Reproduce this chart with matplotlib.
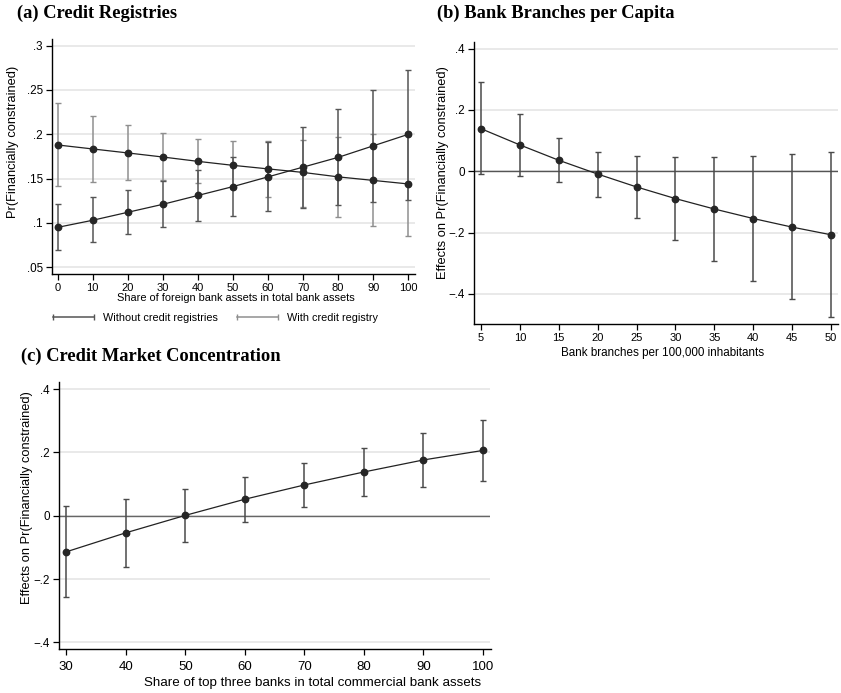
import matplotlib
matplotlib.use("Agg")
import matplotlib.pyplot as plt
from matplotlib.lines import Line2D

# ---------------- data ----------------
a_x = [0, 10, 20, 30, 40, 50, 60, 70, 80, 90, 100]
a_without = [0.095, 0.103, 0.112, 0.121, 0.131, 0.141, 0.152, 0.163, 0.174, 0.187, 0.200]
a_without_lo = [0.0695, 0.0786, 0.0872, 0.0951, 0.1023, 0.1083, 0.113, 0.1165, 0.1207, 0.1233, 0.126]
a_without_hi = [0.1214, 0.129, 0.1372, 0.1474, 0.1598, 0.1744, 0.191, 0.2086, 0.2289, 0.250, 0.2729]
a_with = [0.188, 0.1835, 0.179, 0.1744, 0.1695, 0.165, 0.161, 0.157, 0.152, 0.148, 0.144]
a_with_lo = [0.142, 0.146, 0.148, 0.148, 0.145, 0.138, 0.129, 0.118, 0.107, 0.096, 0.085]
a_with_hi = [0.235, 0.221, 0.210, 0.201, 0.195, 0.1925, 0.193, 0.194, 0.197, 0.200, 0.203]
a_yticks = [0.05, 0.1, 0.15, 0.2, 0.25, 0.3]
a_ytick_labels = [".05", ".1", ".15", ".2", ".25", ".3"]
a_xticks = [0, 10, 20, 30, 40, 50, 60, 70, 80, 90, 100]
a_legend = ["Without credit registries", "With credit registry"]

b_x = [5, 10, 15, 20, 25, 30, 35, 40, 45, 50]
b_y = [0.139, 0.086, 0.036, -0.009, -0.051, -0.089, -0.123, -0.154, -0.182, -0.207]
b_lo = [-0.009, -0.014, -0.035, -0.084, -0.153, -0.224, -0.292, -0.358, -0.417, -0.476]
b_hi = [0.290, 0.188, 0.109, 0.064, 0.051, 0.048, 0.048, 0.051, 0.055, 0.064]
b_xticks = [5, 10, 15, 20, 25, 30, 35, 40, 45, 50]

c_x = [30, 40, 50, 60, 70, 80, 90, 100]
c_y = [-0.114, -0.054, 0.001, 0.052, 0.097, 0.138, 0.176, 0.206]
c_lo = [-0.257, -0.163, -0.082, -0.019, 0.028, 0.063, 0.0895, 0.1105]
c_hi = [0.0295, 0.054, 0.085, 0.123, 0.166, 0.213, 0.260, 0.303]
c_xticks = [30, 40, 50, 60, 70, 80, 90, 100]

eff_yticks = [-0.4, -0.2, 0, 0.2, 0.4]
eff_ytick_labels = ["\u2212.4", "\u2212.2", "0", ".2", ".4"]

titles = ["(a) Credit Registries", "(b) Bank Branches per Capita",
          "(c) Credit Market Concentration"]
xlabels = ["Share of foreign bank assets in total bank assets",
           "Bank branches per 100,000 inhabitants",
           "Share of top three banks in total commercial bank assets"]
ylabels = ["Pr(Financially constrained)",
           "Effects on Pr(Financially constrained)",
           "Effects on Pr(Financially constrained)"]

# ---------------- style ----------------
W, H = 841, 693
plt.rcParams['font.family'] = ['Liberation Sans', 'DejaVu Sans']
SERIF = ['Liberation Serif', 'DejaVu Serif']
GRID = '#e3e3e3'
TICKFS = 8.4

fig = plt.figure(figsize=(W / 100, H / 100), dpi=100)


def rect(l, r, t, b):
    return [l / W, 1 - b / H, (r - l) / W, (b - t) / H]


def style(ax):
    for s in ['top', 'right']:
        ax.spines[s].set_visible(False)
    for s in ['left', 'bottom']:
        ax.spines[s].set_linewidth(1.0)
        ax.spines[s].set_color('black')
    ax.tick_params(direction='out', length=4.5, width=0.9, labelsize=TICKFS,
                   colors='black', pad=2)
    ax.yaxis.grid(True, color=GRID, linewidth=1.1)
    ax.set_axisbelow(True)


def draw_eb(ax, x, y, lo, hi, ecolor, z=2):
    yerr = [[yy - l for yy, l in zip(y, lo)], [h - yy for yy, h in zip(y, hi)]]
    ax.errorbar(x, y, yerr=yerr, fmt='none', ecolor=ecolor, elinewidth=1.1,
                capsize=2.3, capthick=1.0, zorder=z)
    ax.plot(x, y, color='#222222', linewidth=0.9, marker='o', markersize=4.6,
            markerfacecolor='#262626', markeredgecolor='#262626', zorder=z + 1)


# ---------------- panel a ----------------
ax_a = fig.add_axes(rect(52, 415, 39.3, 274))
style(ax_a)
draw_eb(ax_a, a_x, a_without, a_without_lo, a_without_hi, '#555555', z=3)
draw_eb(ax_a, a_x, a_with, a_with_lo, a_with_hi, '#8f8f8f', z=2)
ax_a.set_xlim(-1.57, 101.9)
ax_a.set_ylim(0.0424, 0.3072)
ax_a.set_yticks(a_yticks)
ax_a.set_yticklabels(a_ytick_labels)
ax_a.set_xticks(a_xticks)
ax_a.tick_params(axis='x', labelsize=8.0)

handles = [Line2D([], [], color='#555555', linewidth=1.1, marker='|',
                  markersize=4.5, markeredgewidth=1.0),
           Line2D([], [], color='#8f8f8f', linewidth=1.1, marker='|',
                  markersize=4.5, markeredgewidth=1.0)]
fig.legend(handles, a_legend, loc='center', bbox_to_anchor=(214 / W, 1 - 318 / H),
           ncol=2, frameon=False, fontsize=7.8, numpoints=2, handlelength=4.4,
           handletextpad=0.5, columnspacing=1.5)

# ---------------- panel b ----------------
ax_b = fig.add_axes(rect(474, 838, 42, 324))
style(ax_b)
ax_b.axhline(0, color='#555555', linewidth=1.0, zorder=1)
draw_eb(ax_b, b_x, b_y, b_lo, b_hi, '#4a4a4a')
ax_b.set_xlim(4.1, 50.9)
ax_b.set_ylim(-0.498, 0.4217)
ax_b.set_yticks(eff_yticks)
ax_b.set_yticklabels(eff_ytick_labels)
ax_b.set_xticks(b_xticks)
ax_b.tick_params(axis='x', labelsize=8.0)

# ---------------- panel c ----------------
ax_c = fig.add_axes(rect(58.7, 490.5, 382.3, 649.3))
style(ax_c)
ax_c.axhline(0, color='#666666', linewidth=1.0, zorder=1)
draw_eb(ax_c, c_x, c_y, c_lo, c_hi, '#4a4a4a')
ax_c.set_xlim(28.72, 101.3)
ax_c.set_ylim(-0.4219, 0.4213)
ax_c.set_yticks(eff_yticks)
ax_c.set_yticklabels(eff_ytick_labels)
ax_c.set_xticks(c_xticks)
ax_c.tick_params(axis='x', labelsize=9.5, pad=4)

# ---------------- texts ----------------
title_pos = [(16.7, 13.5), (436.7, 13.5), (20.7, 356.7)]
for t, (px, py) in zip(titles, title_pos):
    fig.text(px / W, 1 - py / H, t, family=SERIF, fontweight='bold', fontsize=13.3,
             ha='left', va='center')

xlab_pos = [(235.5, 298, 7.9), (663, 353.3, 8.4), (313, 683.3, 9.6)]
for t, (px, py, fs) in zip(xlabels, xlab_pos):
    fig.text(px / W, 1 - py / H, t, fontsize=fs, ha='center', va='center')

ylab_pos = [(13.3, 141.5), (443, 172.5), (26.7, 497.5)]
for t, (px, py) in zip(ylabels, ylab_pos):
    fig.text(px / W, 1 - py / H, t, fontsize=9.3, rotation=90,
             ha='center', va='center')

fig.savefig('out.png', dpi=100)
